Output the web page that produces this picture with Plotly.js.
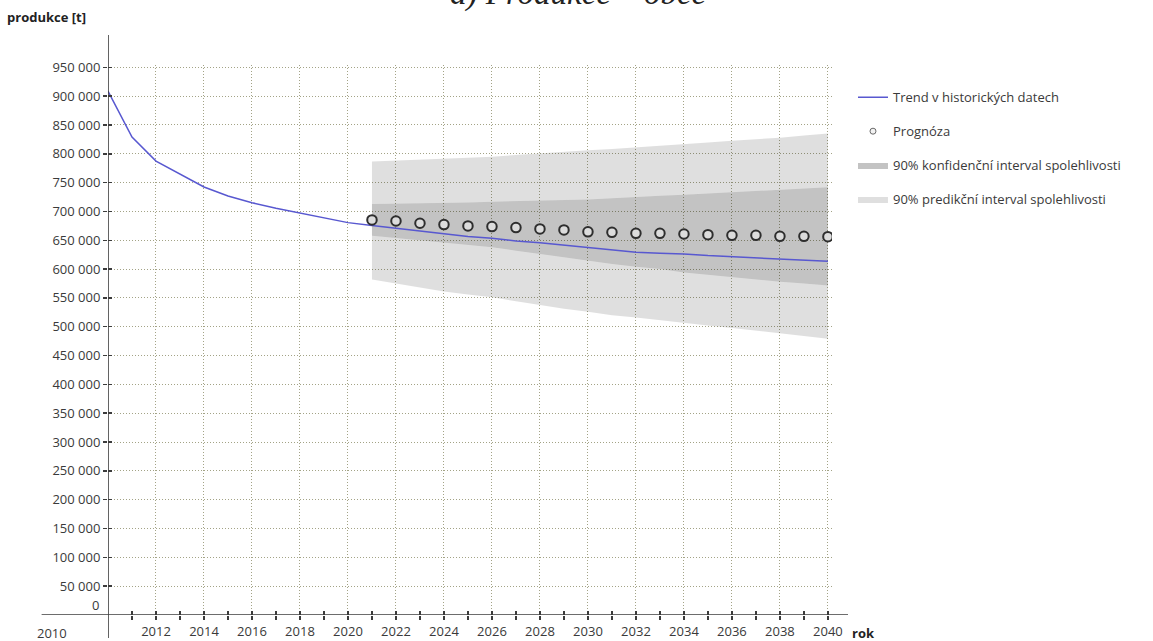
<!DOCTYPE html>
<html>
<head>
<meta charset="utf-8">
<script src="https://cdn.plot.ly/plotly-3.0.1.min.js"></script>
<style>
  html, body { margin: 0; padding: 0; background: #ffffff; }
  #chart { width: 1153px; height: 641px; }
</style>
</head>
<body>
<div id="chart"></div>
<script>
// Historical trend of production (t)
const trendYears = [2010, 2011, 2012, 2013, 2014, 2015, 2016, 2017, 2018, 2019, 2020,
                    2021, 2022, 2023, 2024, 2025, 2026, 2027, 2028, 2029, 2030,
                    2031, 2032, 2033, 2034, 2035, 2036, 2037, 2038, 2039, 2040];
const trendValues = [908700, 829000, 787400, 764300, 742400, 726800, 715200, 705400, 696800, 689300, 680600,
                     675500, 670800, 666200, 662100, 656400, 653500, 648800, 645900, 641900, 637800,
                     633000, 629100, 627400, 626300, 623400, 621700, 619900, 617600, 615900, 613600];

// Forecast and its intervals
const forecastYears = [2021, 2022, 2023, 2024, 2025, 2026, 2027, 2028, 2029, 2030,
                       2031, 2032, 2033, 2034, 2035, 2036, 2037, 2038, 2039, 2040];
const forecastValues = [685300, 683500, 679500, 677200, 674900, 673700, 672000, 669700, 667900, 664600,
                        663700, 662000, 662000, 660800, 659700, 658500, 658500, 656800, 656800, 656200];
const confUpper = [713000, 713500, 714000, 714500, 715500, 717000, 718000, 719000, 719500, 720500,
                   723000, 725500, 727000, 729000, 731000, 733000, 735000, 737500, 739500, 742000];
const confLower = [658000, 654000, 650000, 646000, 642000, 638000, 632000, 626000, 621000, 615000,
                   609000, 604000, 600000, 594000, 590000, 585000, 582000, 578000, 575000, 571500];
const predUpper = [786500, 788000, 789000, 790500, 793000, 795000, 798000, 801000, 803500, 806000,
                   808500, 811000, 814000, 816500, 819500, 822500, 825000, 828000, 831500, 835000];
const predLower = [582000, 575000, 567000, 561000, 556000, 551000, 544000, 537000, 531000, 526000,
                   520000, 516000, 511000, 507000, 502000, 498000, 493000, 488500, 483500, 479000];

// Axis ticks
const yTickValues = [50000, 100000, 150000, 200000, 250000, 300000, 350000, 400000, 450000, 500000,
                     550000, 600000, 650000, 700000, 750000, 800000, 850000, 900000, 950000];
const yTickLabels = ['50 000', '100 000', '150 000', '200 000', '250 000', '300 000', '350 000', '400 000',
                     '450 000', '500 000', '550 000', '600 000', '650 000', '700 000', '750 000', '800 000',
                     '850 000', '900 000', '950 000'];
const yCrossTicks = [0, 50000, 100000, 150000, 200000, 250000, 300000, 350000, 400000, 450000, 500000,
                     550000, 600000, 650000, 700000, 750000, 800000, 850000, 900000, 950000];
const xLabelYears = [2012, 2014, 2016, 2018, 2020, 2022, 2024, 2026, 2028, 2030,
                     2032, 2034, 2036, 2038, 2040];
const xOddYears = [2011, 2013, 2015, 2017, 2019, 2021, 2023, 2025, 2027, 2029,
                   2031, 2033, 2035, 2037, 2039];
const xAllYears = [2011, 2012, 2013, 2014, 2015, 2016, 2017, 2018, 2019, 2020,
                   2021, 2022, 2023, 2024, 2025, 2026, 2027, 2028, 2029, 2030,
                   2031, 2032, 2033, 2034, 2035, 2036, 2037, 2038, 2039, 2040];

const FONT = 'Open Sans, Noto Sans, DejaVu Sans, sans-serif';
const TEXT = '#3a3a3a';
const AXIS = '#3c3c3c';
const GRID = '#a3a386';
const LIGHT = 'rgba(0,0,0,0.125)';
const DARK = 'rgba(0,0,0,0.235)';
const xRange = [2010, 2040.17];
const yRange = [0, 954000];

const traces = [
  // confidence band: lower edge, then upper edge filled down to it
  { x: forecastYears, y: confLower, mode: 'lines', line: { width: 0 }, showlegend: false, hoverinfo: 'skip' },
  { x: forecastYears, y: confUpper, mode: 'lines', line: { width: 0 }, fill: 'tonexty', fillcolor: DARK,
    name: '90% konfidenční interval spolehlivosti', legendgroup: 'c', legendrank: 3 },
  // prediction band, upper strip above the confidence band
  { x: forecastYears, y: predUpper, mode: 'lines', line: { width: 0 }, fill: 'tonexty', fillcolor: LIGHT,
    name: '90% predikční interval spolehlivosti', legendgroup: 'p', legendrank: 4 },
  // prediction band, lower strip below the confidence band
  { x: forecastYears, y: confLower, mode: 'lines', line: { width: 0 }, showlegend: false, hoverinfo: 'skip' },
  { x: forecastYears, y: predLower, mode: 'lines', line: { width: 0 }, fill: 'tonexty', fillcolor: LIGHT,
    showlegend: false, legendgroup: 'p' },
  // trend line
  { x: trendYears, y: trendValues, mode: 'lines', line: { color: '#5858d0', width: 1.5 },
    name: 'Trend v historických datech', legendgroup: 't', legendrank: 1 },
  // forecast points (small symbol for the legend, full-size markers on top)
  { x: forecastYears, y: forecastValues, mode: 'markers',
    marker: { symbol: 'circle', size: 6, color: '#f2f2f2', line: { color: '#6a6a6a', width: 1 } },
    name: 'Prognóza', legendgroup: 'f', legendrank: 2 },
  // full-size markers live on the overlay axes, which also carry the inner half of the crossing ticks
  { x: forecastYears, y: forecastValues, mode: 'markers', xaxis: 'x2', yaxis: 'y2',
    marker: { symbol: 'circle', size: 9.5, color: '#dcdcdc', line: { color: '#2e2e2e', width: 2 } },
    showlegend: false }
];

const layout = {
  width: 1153,
  height: 641,
  margin: { l: 108, r: 321, t: 65, b: 26 },
  paper_bgcolor: '#ffffff',
  plot_bgcolor: '#ffffff',
  hovermode: false,
  font: { family: FONT, size: 13, color: TEXT },
  xaxis: {
    range: xRange, fixedrange: true, automargin: false,
    tickmode: 'array', tickvals: xLabelYears, ticktext: xLabelYears.map(String),
    ticks: 'outside', ticklen: 4, tickwidth: 1.5, tickcolor: AXIS,
    tickfont: { family: FONT, size: 13, color: TEXT },
    minor: { tickmode: 'array', tickvals: xOddYears, ticks: 'outside', ticklen: 4, tickwidth: 1.5,
             tickcolor: AXIS, showgrid: false },
    showgrid: true, gridcolor: GRID, gridwidth: 1, griddash: '1px,2px',
    showline: false, zeroline: false
  },
  xaxis2: {
    range: xRange, overlaying: 'x', anchor: 'y2', side: 'bottom', fixedrange: true,
    tickmode: 'array', tickvals: xAllYears, ticks: 'inside', ticklen: 4, tickwidth: 1.5, tickcolor: AXIS,
    showticklabels: false, showgrid: false, showline: false, zeroline: false
  },
  yaxis: {
    range: yRange, fixedrange: true, automargin: false,
    tickmode: 'array', tickvals: yTickValues, ticktext: yTickLabels,
    ticks: 'outside', ticklen: 4, tickwidth: 1.5, tickcolor: AXIS,
    tickfont: { family: FONT, size: 13, color: TEXT },
    showgrid: true, gridcolor: GRID, gridwidth: 1, griddash: '1px,2px',
    showline: false, zeroline: false
  },
  yaxis2: {
    range: yRange, overlaying: 'y', anchor: 'x2', side: 'left', fixedrange: true,
    tickmode: 'array', tickvals: yCrossTicks, ticks: 'inside', ticklen: 4, tickwidth: 1.5, tickcolor: AXIS,
    showticklabels: false, showgrid: false, showline: false, zeroline: false
  },
  shapes: [
    // x axis line, running past both ends of the plot area
    { type: 'line', xref: 'paper', yref: 'y', x0: -0.0917, x1: 1.0221, y0: 0, y1: 0,
      line: { color: AXIS, width: 1.6 }, layer: 'above' },
    // y axis line at the first year
    { type: 'line', xref: 'x', yref: 'paper', x0: xRange[0], x1: xRange[0], y0: -0.042, y1: 1.0545,
      line: { color: AXIS, width: 1.6 }, layer: 'above' }
  ],
  annotations: [
    { text: '<i>a) Produkce – obce</i>', xref: 'paper', yref: 'paper', x: 0.649, y: 1.0936,
      xanchor: 'center', yanchor: 'bottom', showarrow: false,
      font: { family: 'Liberation Serif, Times New Roman, serif', size: 33, color: '#222222', style: 'italic' } },
    { text: '<b>produkce [t]</b>', xref: 'paper', yref: 'paper', x: -0.1423, y: 1.0873,
      xanchor: 'left', yanchor: 'middle', showarrow: false,
      font: { family: FONT, size: 13, color: '#222222' } },
    { text: '<b>rok</b>', xref: 'paper', yref: 'paper', x: 1.0249, y: -0.033,
      xanchor: 'left', yanchor: 'middle', showarrow: false,
      font: { family: FONT, size: 13, color: '#222222' } },
    { text: '2010', xref: 'paper', yref: 'paper', x: -0.0773, y: -0.0327,
      xanchor: 'center', yanchor: 'middle', showarrow: false,
      font: { family: FONT, size: 13, color: TEXT } },
    { text: '0', xref: 'paper', yref: 'paper', x: -0.0097, y: 0.018,
      xanchor: 'right', yanchor: 'middle', showarrow: false,
      font: { family: FONT, size: 13, color: TEXT } }
  ],
  showlegend: true,
  legend: {
    x: 1.029, xanchor: 'left', y: 0.9685, yanchor: 'top',
    traceorder: 'grouped', tracegroupgap: 14,
    bgcolor: 'rgba(0,0,0,0)', borderwidth: 0,
    font: { family: FONT, size: 13, color: TEXT }
  }
};

Plotly.newPlot('chart', traces, layout, { staticPlot: true, displayModeBar: false });
</script>
</body>
</html>
